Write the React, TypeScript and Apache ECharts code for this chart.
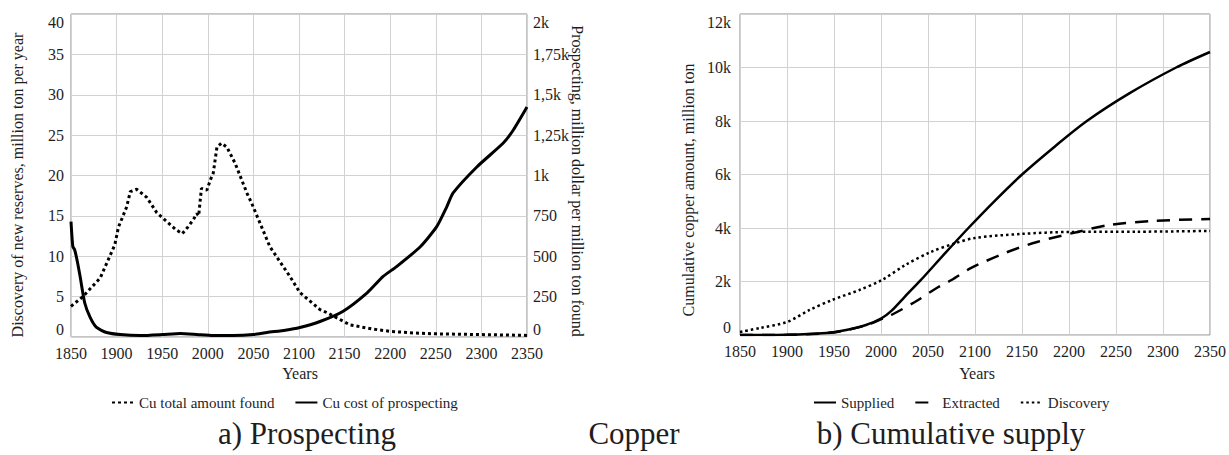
import React, { useEffect, useRef } from "react";
import * as echarts from "echarts";

const FONT = "Liberation Serif";
const TXT = "#1e1e1e";

// ---- a) Prospecting ----
const foundYears = [1850, 1863, 1882, 1898, 1902, 1911, 1915, 1922, 1933, 1944, 1955, 1965, 1972, 1978, 1984, 1988, 1990, 1993, 1999, 2003, 2006, 2010, 2015, 2021, 2030, 2043, 2048, 2068, 2090, 2101, 2123, 2131, 2156, 2180, 2200, 2225, 2247, 2300, 2350];
const foundValues = [3.8, 5.0, 7.3, 11.4, 13.6, 16.1, 18.0, 18.3, 17.3, 15.4, 14.3, 13.3, 12.8, 13.6, 14.5, 15.3, 15.0, 18.4, 18.2, 19.5, 20.3, 23.5, 24.0, 23.5, 21.5, 17.8, 16.6, 11.2, 7.5, 5.5, 3.4, 3.0, 1.5, 1.0, 0.7, 0.5, 0.4, 0.3, 0.2];

const costYears = [1850, 1852, 1854, 1857, 1860, 1865, 1871, 1878, 1889, 1904, 1926, 1950, 1970, 1990, 2006, 2028, 2050, 2065, 2085, 2101, 2123, 2148, 2175, 2192, 2207, 2233, 2251, 2262, 2269, 2295, 2324, 2335, 2350];
const costValues = [714, 560, 540, 466, 374, 212, 121, 59, 28, 15, 9, 15, 22, 14, 9, 9, 15, 28, 42, 59, 96, 158, 275, 374, 436, 559, 683, 806, 892, 1053, 1201, 1282, 1424];

const yearTickLabels = ["1850", "1900", "1950", "2000", "2050", "2100", "2150", "2200", "2250", "2300", "2350"];
const discoveryRateTicks = ["0", "5", "10", "15", "20", "25", "30", "35", "40"];
const costTickLabels = ["0", "250", "500", "750", "1k", "1,25k", "1,5k", "1,75k", "2k"];

// ---- b) Cumulative supply ----
const suppliedYears = [1850, 1900, 1942, 1963, 1984, 2001, 2011, 2025, 2042, 2068, 2093, 2120, 2150, 2185, 2219, 2265, 2314, 2350];
const suppliedValues = [0, 10, 75, 187, 374, 636, 900, 1420, 2040, 3050, 4000, 4980, 6000, 7050, 8000, 9050, 10000, 10580];

const extractedYears = [1850, 1900, 1942, 1963, 1984, 2001, 2011, 2036, 2061, 2075, 2096, 2132, 2166, 2209, 2243, 2290, 2350];
const extractedValues = [0, 5, 70, 180, 360, 600, 748, 1234, 1795, 2057, 2506, 3067, 3478, 3852, 4114, 4264, 4338];

const discoveryYears = [1850, 1871, 1900, 1924, 1948, 1977, 2001, 2026, 2053, 2079, 2100, 2149, 2201, 2272, 2350];
const discoveryValues = [112, 262, 486, 935, 1309, 1683, 2057, 2618, 3104, 3430, 3628, 3778, 3853, 3860, 3890];

const cumTickLabels = ["0", "2k", "4k", "6k", "8k", "10k", "12k"];

const pairs = (xs: number[], ys: number[]) => xs.map((x, i) => [x, ys[i]]);

const labelStyle = { fontFamily: FONT, fontSize: 16, color: TXT };
const splitLine = { show: true, lineStyle: { color: "#d2d2d2", width: 1 } };

function xAxisFor(gridIndex: number) {
  return {
    type: "value",
    gridIndex,
    min: 1850,
    max: 2350,
    interval: 50,
    axisLine: { show: false },
    axisTick: { show: false },
    splitLine,
    axisLabel: {
      ...labelStyle,
      margin: 8,
      formatter: (v: number) => yearTickLabels[Math.round((v - 1850) / 50)],
    },
  };
}

export default function App() {
  const ref = useRef<HTMLDivElement>(null);
  useEffect(() => {
    if (!ref.current) return;
    const chart = echarts.init(ref.current, null, { renderer: "svg" });
    const txt = (text: string, x: number, y: number, size: number, rotation = 0) => ({
      type: "text",
      x,
      y,
      rotation,
      silent: true,
      style: {
        text,
        fontFamily: FONT,
        fontSize: size,
        fill: TXT,
        align: "center",
        verticalAlign: "middle",
      },
    });
    const legendBase = {
      top: 390,
      itemWidth: 22,
      itemHeight: 10,
      itemGap: 20,
      itemStyle: { opacity: 0 },
      textStyle: { fontFamily: FONT, fontSize: 15, color: TXT },
    };
    chart.setOption({
      animation: false,
      backgroundColor: "#ffffff",
      textStyle: { fontFamily: FONT },
      grid: [
        { left: 71, top: 14, width: 456, height: 323, show: true, borderColor: "#8a8a8a", borderWidth: 1, backgroundColor: "transparent" },
        { left: 740, top: 14, width: 474, height: 321, show: true, borderColor: "#8a8a8a", borderWidth: 1, backgroundColor: "transparent" },
      ],
      xAxis: [xAxisFor(0), xAxisFor(1)],
      yAxis: [
        {
          type: "value",
          gridIndex: 0,
          position: "left",
          min: 0,
          max: 40,
          interval: 5,
          axisLine: { show: false },
          axisTick: { show: false },
          splitLine,
          axisLabel: {
            ...labelStyle,
            margin: 7,
            verticalAlignMaxLabel: "top",
            verticalAlignMinLabel: "bottom",
            formatter: (v: number) => discoveryRateTicks[Math.round(v / 5)],
          },
        },
        {
          type: "value",
          gridIndex: 0,
          position: "right",
          min: 0,
          max: 2000,
          interval: 250,
          axisLine: { show: false },
          axisTick: { show: false },
          splitLine: { show: false },
          axisLabel: {
            ...labelStyle,
            margin: 6,
            verticalAlignMaxLabel: "top",
            verticalAlignMinLabel: "bottom",
            formatter: (v: number) => costTickLabels[Math.round(v / 250)],
          },
        },
        {
          type: "value",
          gridIndex: 1,
          position: "left",
          min: 0,
          max: 12000,
          interval: 2000,
          axisLine: { show: false },
          axisTick: { show: false },
          splitLine,
          axisLabel: {
            ...labelStyle,
            margin: 9,
            verticalAlignMaxLabel: "top",
            verticalAlignMinLabel: "bottom",
            formatter: (v: number) => cumTickLabels[Math.round(v / 2000)],
          },
        },
      ],
      legend: [
        { ...legendBase, left: 106, data: ["Cu total amount found", "Cu cost of prospecting"] },
        { ...legendBase, left: 808, data: ["Supplied", "Extracted", "Discovery"] },
      ],
      series: [
        {
          name: "Cu total amount found",
          type: "line",
          xAxisIndex: 0,
          yAxisIndex: 0,
          data: pairs(foundYears, foundValues),
          showSymbol: false,
          symbol: "none",
          lineStyle: { color: "#000", width: 3, type: [3, 3] },
          itemStyle: { color: "#000" },
        },
        {
          name: "Cu cost of prospecting",
          type: "line",
          xAxisIndex: 0,
          yAxisIndex: 1,
          data: pairs(costYears, costValues),
          showSymbol: false,
          symbol: "none",
          smooth: 0.2,
          lineStyle: { color: "#000", width: 3 },
          itemStyle: { color: "#000" },
        },
        {
          name: "Supplied",
          type: "line",
          xAxisIndex: 1,
          yAxisIndex: 2,
          data: pairs(suppliedYears, suppliedValues),
          showSymbol: false,
          symbol: "none",
          smooth: 0.3,
          lineStyle: { color: "#000", width: 2.5 },
          itemStyle: { color: "#000" },
        },
        {
          name: "Extracted",
          type: "line",
          xAxisIndex: 1,
          yAxisIndex: 2,
          data: pairs(extractedYears, extractedValues),
          showSymbol: false,
          symbol: "none",
          smooth: 0.3,
          lineStyle: { color: "#000", width: 2.5, type: [13, 9] },
          itemStyle: { color: "#000" },
        },
        {
          name: "Discovery",
          type: "line",
          xAxisIndex: 1,
          yAxisIndex: 2,
          data: pairs(discoveryYears, discoveryValues),
          showSymbol: false,
          symbol: "none",
          smooth: 0.3,
          lineStyle: { color: "#000", width: 2.5, type: [2.5, 3] },
          itemStyle: { color: "#000" },
        },
      ],
      graphic: [
        txt("Discovery of new reserves, million ton per year", 17, 185, 16, Math.PI / 2),
        txt("Prospecting, million dollar per million ton found", 577, 181, 16, -Math.PI / 2),
        txt("Cumulative copper amount, million ton", 688, 190, 16, Math.PI / 2),
        txt("Years", 300, 373, 16),
        txt("Years", 977, 373, 16),
        txt("a) Prospecting", 307, 433, 31),
        txt("Copper", 634, 433, 31),
        txt("b) Cumulative supply", 951, 433, 31),
      ],
    });
    return () => chart.dispose();
  }, []);
  return (
    <div
      ref={ref}
      style={{ position: "absolute", left: 0, top: 0, width: 1229, height: 455, background: "#fff" }}
    />
  );
}
